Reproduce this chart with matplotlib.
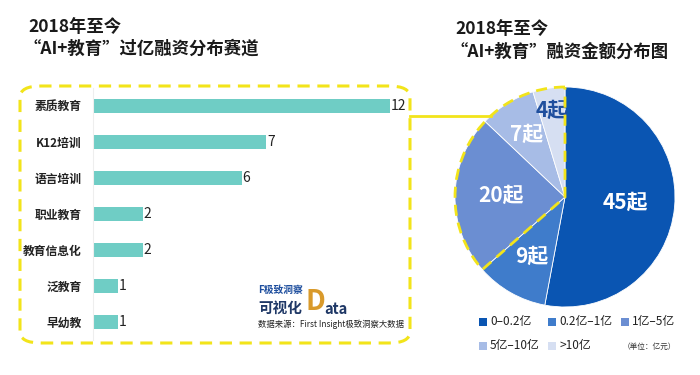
import matplotlib.pyplot as plt
import matplotlib.patches as mpatches
import numpy as np

plt.rcParams['font.family'] = ['Noto Sans CJK SC', 'DejaVu Sans']

# left: deals over 100m per track
tracks = ['素质教育', 'K12培训', '语言培训', '职业教育', '教育信息化', '泛教育', '早幼教']
track_counts = [12, 7, 6, 2, 2, 1, 1]

# right: deal count per amount band
bands = ['0–0.2亿', '0.2亿–1亿', '1亿–5亿', '5亿–10亿', '>10亿']
band_counts = [45, 9, 20, 7, 4]
band_colors = ['#0a55b2', '#3f7ccb', '#6b8ed2', '#a7bce6', '#d6dff2']

W, H = 700, 375
fig = plt.figure(figsize=(7, 3.75), dpi=100)
fig.patch.set_facecolor('white')

def fx(x):
    return x / W

def fy(y):
    return 1 - y / H

yellow = '#f2e41a'

# titles
fig.text(fx(28), fy(27), '2018年至今', fontsize=12.5, fontweight='bold', color='#1a1a1a', va='center')
fig.text(fx(24), fy(49), '“AI+教育”过亿融资分布赛道', fontsize=12.5, fontweight='bold', color='#1a1a1a', va='center')
fig.text(fx(455), fy(29), '2018年至今', fontsize=12.5, fontweight='bold', color='#1a1a1a', va='center')
fig.text(fx(451), fy(52), '“AI+教育”融资金额分布图', fontsize=12.5, fontweight='bold', color='#1a1a1a', va='center')

# dashed box round the bar chart
box = mpatches.FancyBboxPatch((fx(20), fy(343)), fx(390), (343 - 86) / H,
                              boxstyle='round,pad=0,rounding_size=0.03',
                              transform=fig.transFigure, fill=False, edgecolor=yellow,
                              linewidth=2.2, linestyle=(0, (4, 2.5)), zorder=3)
fig.patches.append(box)

# bar chart
ax = fig.add_axes([fx(93), fy(340), fx(297), 252 / H])
ax.set_facecolor('none')
ypos = np.arange(len(tracks))
ax.barh(ypos, track_counts, height=0.39, color='#6fcdc5', zorder=2)
ax.set_xlim(0, 12)
ax.set_ylim(len(tracks) - 0.5, -0.5)
ax.set_yticks(ypos)
ax.set_yticklabels(tracks, fontsize=8.5, fontweight='bold', color='#222222')
ax.tick_params(axis='y', length=0, pad=8)
ax.set_xticks([])
for s in ['top', 'right', 'bottom']:
    ax.spines[s].set_visible(False)
ax.spines['left'].set_color('#eeeeee')
for i, v in enumerate(track_counts):
    ax.text(v + 0.05, i, str(v), fontsize=10, color='#222222', va='center', ha='left')

# logo and source
fig.text(fx(258), fy(290), 'F极致洞察', fontsize=7, fontweight='bold', fontstyle='italic',
         color='#1f4f9e', va='center')
fig.text(fx(258), fy(308), '可视化', fontsize=10.5, fontweight='bold', color='#1f3866', va='center')
fig.text(fx(306), fy(302), 'D', fontsize=20, fontweight='bold', color='#d99a2b', va='center')
fig.text(fx(324), fy(309), 'ata', fontsize=10.5, fontweight='bold', color='#1f3866', va='center')
fig.text(fx(258), fy(324), '数据来源：First Insight极致洞察大数据', fontsize=6, color='#222222', va='center')

# pie chart
pax = fig.add_axes([fx(455), fy(307), fx(220), 220 / H])
wedges, _ = pax.pie(band_counts, colors=band_colors, startangle=90, counterclock=False,
                    radius=1, wedgeprops=dict(edgecolor='white', linewidth=0.6))
pax.set_xlim(-1, 1)
pax.set_ylim(-1, 1)
pax.set_aspect('equal')

total = sum(band_counts)
cum = np.cumsum([0] + band_counts)
label_r = [0.55, 0.62, 0.58, 0.67, 0.8]
label_c = ['white', 'white', 'white', 'white', '#1f4f9e']
for i, n in enumerate(band_counts):
    mid = 90 - (cum[i] + n / 2) / total * 360
    a = np.deg2rad(mid)
    pax.text(label_r[i] * np.cos(a), label_r[i] * np.sin(a), f'{n}起', fontsize=15,
             fontweight='bold', color=label_c[i], ha='center', va='center')

# dashed outline round the three small bands
start = 90 - cum[2] / total * 360 + 360
outline = mpatches.Wedge((0, 0), 1.0, 90, start, fill=False, edgecolor=yellow,
                         linewidth=2.0, linestyle=(0, (4, 2.5)), zorder=5, clip_on=False)
pax.add_patch(outline)

# connector from the box to the pie edge
yy = (197 - 116) / 110
xx = -np.sqrt(1 - yy ** 2)
px, py = fig.transFigure.inverted().transform(pax.transData.transform((xx, yy)))
fig.add_artist(plt.Line2D([fx(410), px], [py, py], color=yellow, linewidth=2.0,
                          transform=fig.transFigure))

# legend
legend_pos = [(483, 322), (552, 322), (625, 322), (483, 346), (552, 346)]
for (x, y), lab, c in zip(legend_pos, bands, band_colors):
    sq = mpatches.Rectangle((fx(x - 4), fy(y + 4)), fx(8), 8 / H, transform=fig.transFigure,
                            facecolor=c, edgecolor='none')
    fig.patches.append(sq)
    fig.text(fx(x + 7), fy(y), lab, fontsize=8.5, color='#222222', va='center')
fig.text(fx(623), fy(347), '（单位：亿元）', fontsize=5.5, color='#333333', va='center')

fig.savefig('out.png', dpi=100)
